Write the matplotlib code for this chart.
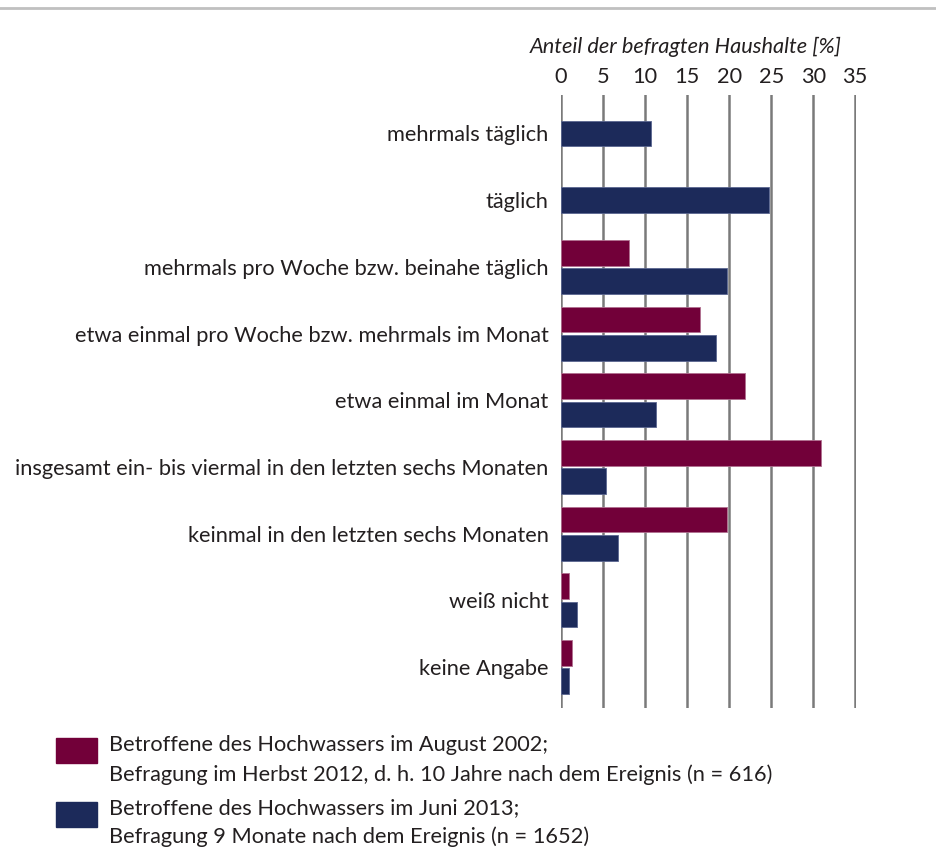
import matplotlib
matplotlib.use("Agg")
import matplotlib.pyplot as plt
import numpy as np
from matplotlib.patches import Rectangle
from matplotlib.lines import Line2D

plt.rcParams['font.family'] = ['Lato', 'DejaVu Sans']

categories = [
    "mehrmals täglich",
    "täglich",
    "mehrmals pro Woche bzw. beinahe täglich",
    "etwa einmal pro Woche bzw. mehrmals im Monat",
    "etwa einmal im Monat",
    "insgesamt ein- bis viermal in den letzten sechs Monaten",
    "keinmal in den letzten sechs Monaten",
    "weiß nicht",
    "keine Angabe",
]
values_2002 = [np.nan, np.nan, 8.1, 16.5, 21.9, 30.9, 19.8, 0.9, 1.3]
values_2013 = [10.7, 24.7, 19.8, 18.4, 11.3, 5.3, 6.8, 1.9, 1.0]
ticks = [0, 5, 10, 15, 20, 25, 30, 35]
legend_2002 = ["Betroffene des Hochwassers im August 2002;",
               "Befragung im Herbst 2012, d. h. 10 Jahre nach dem Ereignis (n = 616)"]
legend_2013 = ["Betroffene des Hochwassers im Juni 2013;",
               "Befragung 9 Monate nach dem Ereignis (n = 1652)"]
axis_title = "Anteil der befragten Haushalte [%]"

RED = "#720039"
BLUE = "#1c2a5a"
GRID = "#7a7a7a"
TXT = "#231f20"
FS = 15.7

W, H = 936, 866
fig = plt.figure(figsize=(W / 100, H / 100), dpi=100)
ax = fig.add_axes([561 / W, 1 - 708 / H, (855.7 - 561) / W, (708 - 95) / H])

n = len(categories)
y = np.arange(n)
bh = 0.385
off = 0.213
for i in range(n):
    r = values_2002[i]
    b = values_2013[i]
    if np.isnan(r):
        ax.barh(y[i], b, height=bh, color=BLUE, edgecolor="#5a6690", linewidth=0.6, zorder=3)
    else:
        ax.barh(y[i] - off, r, height=bh, color=RED, edgecolor="#b07090", linewidth=0.6, zorder=3)
        ax.barh(y[i] + off, b, height=bh, color=BLUE, edgecolor="#5a6690", linewidth=0.6, zorder=3)

ax.set_xlim(0, 35.05)
ax.set_ylim(n - 1 + 0.614, -0.577)
ax.set_xticks(ticks)
ax.set_xticklabels([str(t) for t in ticks])
ax.xaxis.tick_top()
ax.tick_params(axis='x', length=0, pad=6, labelsize=FS, colors=TXT)
for t in ticks:
    ax.axvline(t, color=GRID, linewidth=1.8, zorder=1)
ax.set_yticks(y)
ax.set_yticklabels(categories)
ax.tick_params(axis='y', length=0, pad=9, labelsize=FS, colors=TXT)
for s in ax.spines.values():
    s.set_visible(False)

fig.text(686 / W, 1 - 47 / H, axis_title, ha='center', va='center',
         fontsize=FS, style='italic', color=TXT)

# top rule
fig.add_artist(Line2D([0, 1], [1 - 8 / H, 1 - 8 / H], color="#c0c0c0", linewidth=2))

# legend
fig.add_artist(Rectangle((56 / W, 1 - 763 / H), 41 / W, 25 / H, color=RED, transform=fig.transFigure))
fig.add_artist(Rectangle((56 / W, 1 - 827 / H), 41 / W, 25 / H, color=BLUE, transform=fig.transFigure))
for j, line in enumerate(legend_2002):
    fig.text(109 / W, 1 - (745 + 30 * j) / H, line, ha='left', va='center', fontsize=FS, color=TXT)
for j, line in enumerate(legend_2013):
    fig.text(109 / W, 1 - (808 + 29 * j) / H, line, ha='left', va='center', fontsize=FS, color=TXT)

fig.savefig("out.png", dpi=100, facecolor="white")
